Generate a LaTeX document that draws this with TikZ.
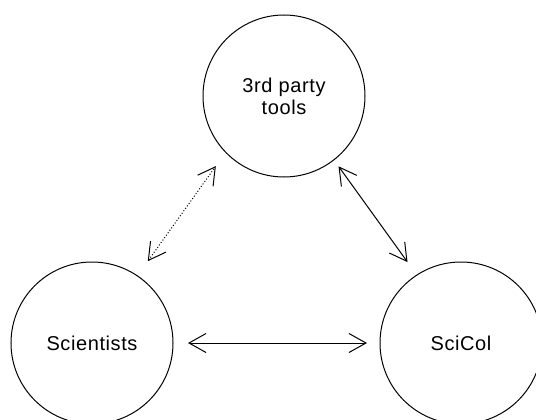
\documentclass[tikz,border=0pt]{standalone}
\usepackage{fontspec}
\setmainfont{Liberation Sans}[LetterSpace=3]
\usetikzlibrary{arrows.meta}
\begin{document}
\begin{tikzpicture}[x=1pt,y=-1pt,
  actor/.style={circle, draw, line width=1pt, minimum size=162pt,
    inner sep=0pt, outer sep=0pt, align=center,
    font=\fontsize{20}{22}\selectfont},
  barb/.tip={Straight Barb[length=17pt,width=19pt]},
  link/.style={line width=1pt, barb-barb},
  weaklink/.style={link, dash pattern=on 1pt off 2pt}]
\useasboundingbox (0,0) rectangle (536,420);

% the three parties
\node[actor] (tools)  at (284,96)  {3rd party\\tools};
\node[actor] (sci)    at (92,343)  {Scientists};
\node[actor] (scicol) at (461,343) {SciCol};

% exchanges between them
\draw[weaklink, shorten <=18pt, shorten >=17pt] (sci.56) -- (tools.224);
\draw[link, shorten <=8pt, shorten >=16pt] (tools.308) -- (scicol.123);
\draw[link, shorten <=15pt, shorten >=13pt] (sci.east) -- (scicol.west);
\end{tikzpicture}
\end{document}
